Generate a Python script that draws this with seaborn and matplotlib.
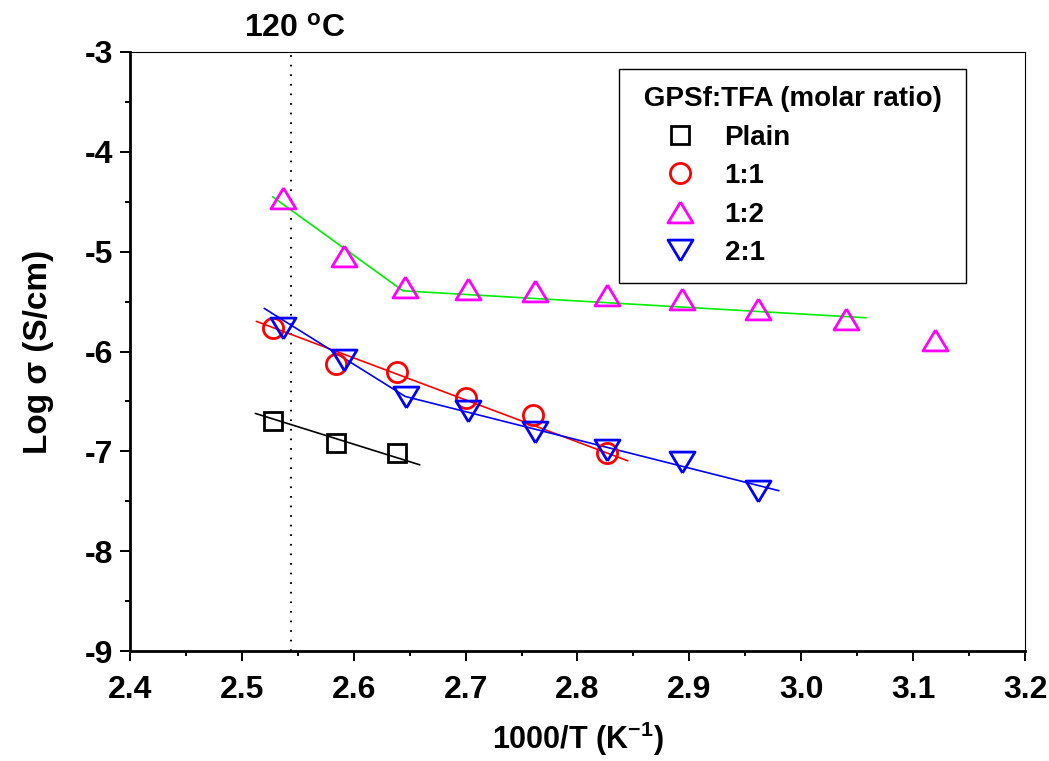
import numpy as np
import matplotlib
matplotlib.use("Agg")
import matplotlib.pyplot as plt
import seaborn as sns

# measured points, 1000/T (K^-1) vs log sigma (S/cm)
plain_x = [2.528, 2.584, 2.639]
plain_y = [-6.70, -6.92, -7.02]
r11_x = [2.5275, 2.5838, 2.6389, 2.700, 2.760, 2.826]
r11_y = [-5.767, -6.124, -6.207, -6.466, -6.64, -7.012]
r12_x = [2.5365, 2.5913, 2.646, 2.7024, 2.762, 2.826, 2.893, 2.9616, 3.040, 3.1196]
r12_y = [-4.460, -5.039, -5.350, -5.373, -5.395, -5.435, -5.472, -5.572, -5.675, -5.881]
r21_x = [2.537, 2.5916, 2.6464, 2.7024, 2.762, 2.826, 2.893, 2.9616]
r21_y = [-5.76, -6.086, -6.451, -6.60, -6.809, -6.982, -7.105, -7.40]

# fitted lines (break points)
plain_fit_x = [2.512, 2.659]
plain_fit_y = [-6.62, -7.135]
r11_fit_x = [2.513, 2.845]
r11_fit_y = [-5.698, -7.095]
r12_fit_x = [2.5275, 2.644, 3.058]
r12_fit_y = [-4.450, -5.392, -5.662]
r21_fit_x = [2.520, 2.646, 2.980]
r21_fit_y = [-5.568, -6.45, -7.394]

t120_x = 1000 / (120 + 273.15)

x_ticks = [2.4, 2.5, 2.6, 2.7, 2.8, 2.9, 3.0, 3.1, 3.2]
y_ticks = [-9, -8, -7, -6, -5, -4, -3]

sns.set_theme(style="ticks")
plt.rcParams["font.family"] = ["Liberation Sans", "DejaVu Sans"]
plt.rcParams["font.weight"] = "bold"
for key in ["text.color", "axes.labelcolor", "xtick.color", "ytick.color", "axes.edgecolor"]:
    plt.rcParams[key] = "black"
plt.rcParams["mathtext.fontset"] = "custom"
plt.rcParams["mathtext.rm"] = "Liberation Sans:bold"
plt.rcParams["mathtext.it"] = "Liberation Sans:bold"
plt.rcParams["mathtext.bf"] = "Liberation Sans:bold"

fig = plt.figure(figsize=(10.49, 7.61), dpi=100)
ax = fig.add_axes([0.1239, 0.1445, 0.8532, 0.7872])

tri_up = [(0, 1), (-1.2, -1), (1.2, -1), (0, 1)]
tri_dn = [(0, -1), (-1.2, 1), (1.2, 1), (0, -1)]

# fit lines
sns.lineplot(x=plain_fit_x, y=plain_fit_y, color="black", lw=1.2, ax=ax, sort=False)
sns.lineplot(x=r11_fit_x, y=r11_fit_y, color="#ff0000", lw=1.2, ax=ax, sort=False)
sns.lineplot(x=r12_fit_x, y=r12_fit_y, color="#00ee00", lw=1.2, ax=ax, sort=False)
sns.lineplot(x=r21_fit_x, y=r21_fit_y, color="#0000ff", lw=1.2, ax=ax, sort=False)

series = [
    (plain_x, plain_y, "s", 13.5, "black", "Plain"),
    (r11_x, r11_y, "o", 14.5, "#ff0000", "1:1"),
    (r12_x, r12_y, tri_up, 18, "#ff00ff", "1:2"),
    (r21_x, r21_y, tri_dn, 18, "#0000ff", "2:1"),
]
for xs, ys, mk, ms, col, lab in series:
    sns.lineplot(x=xs, y=ys, ax=ax, linestyle="none", marker=mk, markersize=ms,
                 markerfacecolor="none", markeredgecolor=col, markeredgewidth=2.0,
                 color=col, label=lab)

# 120 C marker line
ax.plot([t120_x, t120_x], [-9, -3], color="black", lw=1.5,
        linestyle=(0, (0.8, 3.8)), zorder=1)
ax.text(t120_x + 0.004, -2.85, "120 $^{o}$C", ha="center", va="baseline",
        fontsize=23, fontweight="bold")

ax.set_xlim(2.4, 3.2)
ax.set_ylim(-9, -3)
ax.set_xticks(x_ticks)
ax.set_xticklabels([f"{v:.1f}" for v in x_ticks])
ax.set_yticks(y_ticks)
ax.set_yticklabels([str(v) for v in y_ticks])
ax.set_xticks(np.arange(2.45, 3.2, 0.1), minor=True)
ax.set_yticks(np.arange(-8.5, -3, 1.0), minor=True)
ax.tick_params(which="major", direction="out", length=7, width=1.4, labelsize=23,
               top=False, right=False)
ax.tick_params(axis="x", which="major", pad=10)
ax.tick_params(axis="y", which="major", pad=5)
ax.tick_params(which="minor", direction="out", length=3.8, width=1.4,
               top=False, right=False)
for lab in ax.get_xticklabels() + ax.get_yticklabels():
    lab.set_fontweight("bold")

for side in ["left", "bottom"]:
    ax.spines[side].set_linewidth(2.0)
for side in ["top", "right"]:
    ax.spines[side].set_linewidth(0.8)

ax.set_xlabel("1000/T (K$^{-1}$)", fontsize=22, fontweight="bold", labelpad=11)
ax.set_ylabel("Log \u03c3 (S/cm)", fontsize=24, fontweight="bold", labelpad=22)

leg = ax.legend(title=" GPSf:TFA (molar ratio) ", loc="upper right",
                bbox_to_anchor=(0.934, 0.971), borderaxespad=0,
                fontsize=20, title_fontsize=20, frameon=True, fancybox=False,
                edgecolor="black", framealpha=1, borderpad=0.6,
                labelspacing=0.45, handlelength=3.17, handletextpad=0.03,
                alignment="left")
leg.get_frame().set_linewidth(1.0)
leg.get_title().set_fontweight("bold")
for t in leg.get_texts():
    t.set_fontweight("bold")

fig.savefig("out.png", dpi=100)
